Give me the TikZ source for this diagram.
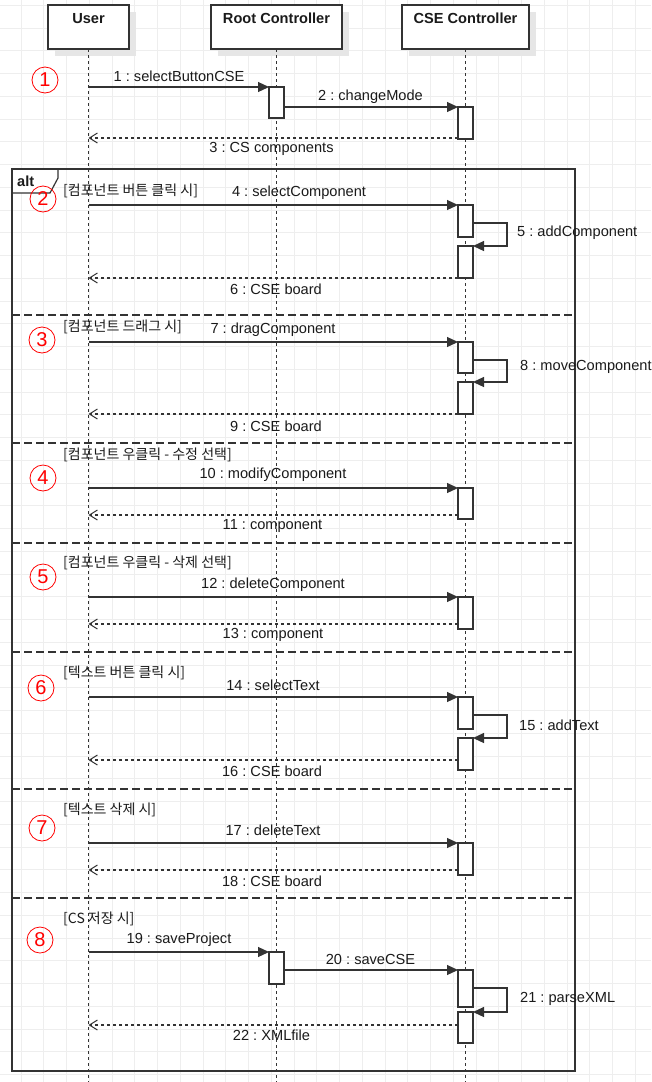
\documentclass[tikz,border=0pt]{standalone}
\usepackage{fontspec}
\setmainfont{Liberation Sans}
\newfontfamily\krfont{Noto Sans CJK KR}
\usetikzlibrary{arrows.meta,shadows}
\definecolor{ln}{HTML}{333333}
\definecolor{tx}{HTML}{1A1A1A}
\definecolor{gridc}{HTML}{EEEEEE}
\definecolor{shade}{HTML}{E6E6E6}
\frenchspacing
\begin{document}
\begin{tikzpicture}[x=1pt,y=-1pt,
  gridl/.style={draw=gridc, line width=0.9pt},
  lbl/.style={font=\fontsize{14.6}{17}\selectfont, text=tx, inner sep=0pt},
  lblw/.style={lbl, anchor=west},
  hd/.style={font=\bfseries\fontsize{14.6}{17}\selectfont, text=tx, inner sep=0pt, anchor=north},
  guard/.style={font=\krfont\fontsize{14}{16}\selectfont, text=tx, inner sep=0pt, anchor=west},
  lifebox/.style={draw=ln, line width=1.2pt, fill=white, minimum height=44pt, anchor=north west,
    inner sep=0pt, outer sep=0pt,
    drop shadow={shadow xshift=7pt, shadow yshift=-7pt, fill=shade, opacity=1}},
  act/.style={draw=ln, line width=1.2pt, fill=white, minimum width=15pt, anchor=north,
    inner sep=0pt, outer sep=0pt},
  life/.style={draw=ln, line width=1.1pt, dash pattern=on 3pt off 3pt},
  call/.style={draw=ln, line width=1.2pt, -{Triangle[length=11pt,width=10pt]}},
  ret/.style={draw=ln, line width=1.2pt, dash pattern=on 3pt off 3pt,
    -{Straight Barb[length=8pt,width=10pt,line width=1pt]}},
  frm/.style={draw=ln, line width=1.2pt},
  sep/.style={draw=ln, line width=1.2pt, dash pattern=on 8pt off 4pt},
  num/.style={circle, draw=red, line width=0.8pt, minimum size=26pt, inner sep=0pt, text=red,
    font=\fontsize{20}{20}\selectfont}
]
\useasboundingbox (0,0) rectangle (651,1082);
\fill[white] (0,0) rectangle (651,1082);

% background grid
\foreach \i in {0,...,29} \draw[gridl] ({-1.75+22.75*\i},0) -- ({-1.75+22.75*\i},1082);
\foreach \j in {0,...,47} \draw[gridl] (0,{5.25+22.75*\j}) -- (651,{5.25+22.75*\j});

% combined fragment
\fill[white] (12,169) -- (58,169) -- (58,178) -- (50,193) -- (12,193) -- cycle;
\draw[frm] (12,169) rectangle (575,1071);
\draw[frm] (58,169) -- (58,178) -- (50,193) -- (12,193);
\node[inner sep=0pt, anchor=west, text=tx, font=\bfseries\fontsize{14.6}{17}\selectfont] (alt) at (17,181) {alt};
\foreach \y in {315,443,543,652,789,898} \draw[sep] (12,\y) -- (575,\y);

% lifeline heads
\node[lifebox, minimum width=81pt] (user) at (48,5) {};
\node[lifebox, minimum width=131pt] (root) at (211,5) {};
\node[lifebox, minimum width=127pt] (cse) at (402,5) {};
\node[hd] (userT) at ([yshift=-8pt]user.north) {User};
\node[hd] (rootT) at ([yshift=-8pt]root.north) {Root Controller};
\node[hd] (cseT) at ([yshift=-8pt]cse.north) {CSE Controller};
\coordinate (bottom) at (0,1082);
\draw[life] (user.south) -- (user.south |- bottom);
\draw[life] (root.south) -- (root.south |- bottom);
\draw[life] (cse.south) -- (cse.south |- bottom);

% activations
\node[act, minimum height=31pt] (r1) at (276.5,87) {};
\node[act, minimum height=32pt] (c1) at (465.5,107) {};
\node[act, minimum height=32pt] (c2a) at (465.5,205) {};
\node[act, minimum height=32pt] (c2b) at (465.5,246) {};
\node[act, minimum height=31pt] (c3a) at (465.5,342) {};
\node[act, minimum height=32pt] (c3b) at (465.5,382) {};
\node[act, minimum height=31pt] (c4) at (465.5,488) {};
\node[act, minimum height=32pt] (c5) at (465.5,597) {};
\node[act, minimum height=32pt] (c6a) at (465.5,697) {};
\node[act, minimum height=32pt] (c6b) at (465.5,738) {};
\node[act, minimum height=32pt] (c7) at (465.5,843) {};
\node[act, minimum height=32pt] (r8) at (276.5,952) {};
\node[act, minimum height=37pt] (c8a) at (465.5,970) {};
\node[act, minimum height=31pt] (c8b) at (465.5,1012) {};

% return message start points on the activations
\coordinate (s3) at ([yshift=1pt]c1.south west);
\coordinate (s6) at (c2b.south west);
\coordinate (s9) at (c3b.south west);
\coordinate (s11) at ([yshift=4pt]c4.south west);
\coordinate (s13) at ([yshift=5pt]c5.south west);
\coordinate (s16) at ([yshift=10pt]c6b.south west);
\coordinate (s18) at ([yshift=5pt]c7.south west);
\coordinate (s22) at ([yshift=-13pt]c8b.north west);

% messages
\draw[call] (user.south |- r1.north west) -- (r1.north west);
\draw[call] (r1.east |- c1.north west) -- (c1.north west);
\draw[ret] (s3) -- (user.south |- s3);

\draw[call] (user.south |- c2a.north west) -- (c2a.north west);
\draw[call] ([yshift=-18pt]c2a.north east) -- ++(34,0) |- (c2b.north east);
\draw[ret] (s6) -- (user.south |- s6);

\draw[call] (user.south |- c3a.north west) -- (c3a.north west);
\draw[call] ([yshift=-18pt]c3a.north east) -- ++(34,0) |- (c3b.north east);
\draw[ret] (s9) -- (user.south |- s9);

\draw[call] (user.south |- c4.north west) -- (c4.north west);
\draw[ret] (s11) -- (user.south |- s11);

\draw[call] (user.south |- c5.north west) -- (c5.north west);
\draw[ret] (s13) -- (user.south |- s13);

\draw[call] (user.south |- c6a.north west) -- (c6a.north west);
\draw[call] ([yshift=-18pt]c6a.north east) -- ++(34,0) |- (c6b.north east);
\draw[ret] (s16) -- (user.south |- s16);

\draw[call] (user.south |- c7.north west) -- (c7.north west);
\draw[ret] (s18) -- (user.south |- s18);

\draw[call] (user.south |- r8.north west) -- (r8.north west);
\draw[call] (r8.east |- c8a.north west) -- (c8a.north west);
\draw[call] ([yshift=-18pt]c8a.north east) -- ++(34,0) |- (c8b.north east);
\draw[ret] (s22) -- (user.south |- s22);

% message labels
\node[lbl] (m1) at (179,76) {1 : selectButtonCSE};
\node[lbl] (m2) at (370.5,96.5) {2 : changeMode};
\node[lbl] (m3) at (271.5,149) {3 : CS components};
\node[lbl] (m4) at (299,193) {4 : selectComponent};
\node[lblw] (m5) at (517,233) {5 : addComponent};
\node[lbl] (m6) at (276,289) {6 : CSE board};
\node[lbl] (m7) at (273,330) {7 : dragComponent};
\node[lblw] (m8) at (520,367) {8 : moveComponent};
\node[lbl] (m9) at (276,426) {9 : CSE board};
\node[lbl] (m10) at (273,475) {10 : modifyComponent};
\node[lbl] (m11) at (272.5,526) {11 : component};
\node[lbl] (m12) at (273,585) {12 : deleteComponent};
\node[lbl] (m13) at (273,635) {13 : component};
\node[lbl] (m14) at (273,685) {14 : selectText};
\node[lblw] (m15) at (519,725) {15 : addText};
\node[lbl] (m16) at (272,771) {16 : CSE board};
\node[lbl] (m17) at (273,830.5) {17 : deleteText};
\node[lbl] (m18) at (272,881) {18 : CSE board};
\node[lbl] (m19) at (179,940) {19 : saveProject};
\node[lbl] (m20) at (370.5,959) {20 : saveCSE};
\node[lblw] (m21) at (520,999) {21 : parseXML};
\node[lbl] (m22) at (271.5,1035) {22 : XMLfile};

% guards
\node[guard] (g2) at (63,190.7) {[컴포넌트 버튼 클릭 시]};
\node[guard] (g3) at (63,326.7) {[컴포넌트 드래그 시]};
\node[guard] (g4) at (63,455) {[컴포넌트 우클릭 - 수정 선택]};
\node[guard] (g5) at (63,563) {[컴포넌트 우클릭 - 삭제 선택]};
\node[guard] (g6) at (63,673) {[텍스트 버튼 클릭 시]};
\node[guard] (g7) at (63,810) {[텍스트 삭제 시]};
\node[guard] (g8) at (63,919) {[CS 저장 시]};

% step numbers
\node[num] (n1) at (45,80) {1};
\node[num] (n2) at (43,199) {2};
\node[num] (n3) at (42,340) {3};
\node[num] (n4) at (43,478) {4};
\node[num] (n5) at (43,577) {5};
\node[num] (n6) at (41,688) {6};
\node[num] (n7) at (42,828) {7};
\node[num] (n8) at (40,940) {8};
\end{tikzpicture}
\end{document}
